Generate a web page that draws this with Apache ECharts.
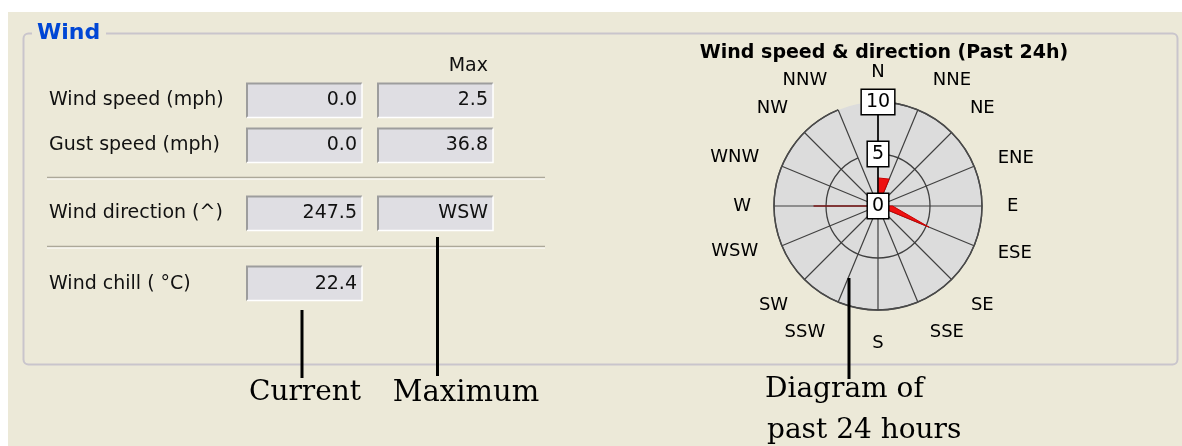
<!DOCTYPE html>
<html>
<head>
<meta charset="utf-8">
<script src="https://cdn.jsdelivr.net/npm/echarts@6/dist/echarts.min.js"></script>
<style>
html,body{margin:0;padding:0;background:#fff;}
#chart{width:1182px;height:446px;}
</style>
</head>
<body>
<div id="chart"></div>
<script>
// ---- data ----
const directions = ['N','NNE','NE','ENE','E','ESE','SE','SSE','S','SSW','SW','WSW','W','WNW','NW','NNW'];
const speedByDirection = [2.7, 2.8, 0, 0, 1.4, 5.3, 0, 0, 0, 0, 0, 0, 0, 0, 0, 0];
const indicatorDirection = 'W';
const indicatorLength = 6.2;
const radiusTicks = [0, 5, 10];
const rowLabels = ['Wind speed (mph)', 'Gust speed (mph)', 'Wind direction (^)', 'Wind chill ( \u00B0C)'];
const currentValues = ['0.0', '0.0', '247.5', '22.4'];
const maxValues = ['2.5', '36.8', 'WSW', null];
const chartTitle = 'Wind speed & direction (Past 24h)';
const panelTitle = 'Wind';
const maxHeader = 'Max';
const annotations = ['Current', 'Maximum', 'Diagram of', 'past 24 hours'];

// ---- layout / style (UI chrome) ----
const SANS = 'DejaVu Sans';
const SERIF = 'DejaVu Serif';
const BG = '#ECE9D8';
const rowY = [99.5, 144.5, 212.5, 283];
const curX = 247, maxX = 378, boxW = 115, boxH = 34;
// compass label padding [top, right, bottom, left], pushes labels outwards like the original widget
const labelPad = [
  [0,0,29,0], [0,0,28,18], [0,0,21,24], [0,0,2,31],
  [0,0,3,33], [2,0,0,31], [22,0,0,25], [29,0,0,15],
  [32,0,0,0], [29,16,0,0], [22,22,0,0], [0,31,0,0],
  [0,31,0,0], [0,30,3,0], [0,22,21,0], [0,14,28,0]
];

function box(x, yc, text) {
  const y = Math.round(yc - boxH / 2) + 0.5;
  const els = [
    {type: 'rect', shape: {x: x, y: y, width: boxW, height: boxH}, style: {fill: '#DFDEE3', stroke: null}},
    {type: 'polyline', shape: {points: [[x, y + boxH], [x, y], [x + boxW, y]]}, style: {stroke: '#9d9d9d', lineWidth: 2, fill: null}},
    {type: 'polyline', shape: {points: [[x + boxW, y], [x + boxW, y + boxH], [x, y + boxH]]}, style: {stroke: '#ffffff', lineWidth: 1.5, fill: null}}
  ];
  if (text != null) {
    els.push({type: 'text', x: x + boxW - 5, y: yc + 1, style: {text: text, font: '19px "' + SANS + '"', fill: '#111', align: 'right', verticalAlign: 'middle'}});
  }
  return els;
}

let graphics = [
  {type: 'rect', shape: {x: 8, y: 12, width: 1174, height: 434}, style: {fill: BG}, z: -10},
  {type: 'rect', shape: {x: 23.5, y: 33.5, width: 1154, height: 331, r: 5}, style: {fill: null, stroke: '#c9c5cc', lineWidth: 2}, z: -9},
  {type: 'rect', shape: {x: 32, y: 22, width: 74, height: 24}, style: {fill: BG}, z: -8},
  {type: 'text', x: 37, y: 33, style: {text: panelTitle, font: 'bold 22px "' + SANS + '"', fill: '#0046D5', verticalAlign: 'middle'}},
  {type: 'text', x: 488, y: 66, style: {text: maxHeader, font: '19px "' + SANS + '"', fill: '#111', align: 'right', verticalAlign: 'middle'}},
  {type: 'line', shape: {x1: 47, y1: 177.5, x2: 545, y2: 177.5}, style: {stroke: '#aca899', lineWidth: 1.5}},
  {type: 'line', shape: {x1: 47, y1: 179, x2: 545, y2: 179}, style: {stroke: '#ffffff', lineWidth: 1}},
  {type: 'line', shape: {x1: 47, y1: 246.5, x2: 545, y2: 246.5}, style: {stroke: '#aca899', lineWidth: 1.5}},
  {type: 'line', shape: {x1: 47, y1: 248, x2: 545, y2: 248}, style: {stroke: '#ffffff', lineWidth: 1}},
  // annotation pointers
  {type: 'line', shape: {x1: 302, y1: 310, x2: 302, y2: 378}, style: {stroke: '#000', lineWidth: 3}, z: 20},
  {type: 'line', shape: {x1: 437.5, y1: 237, x2: 437.5, y2: 376}, style: {stroke: '#000', lineWidth: 3}, z: 20},
  {type: 'line', shape: {x1: 849, y1: 278, x2: 849, y2: 379}, style: {stroke: '#000', lineWidth: 3}, z: 20},
  {type: 'text', x: 305, y: 393, style: {text: annotations[0], font: '28px "' + SERIF + '"', fill: '#000', align: 'center', verticalAlign: 'middle'}},
  {type: 'text', x: 466, y: 393, style: {text: annotations[1], font: '29px "' + SERIF + '"', fill: '#000', align: 'center', verticalAlign: 'middle'}},
  {type: 'text', x: 765, y: 376, style: {text: annotations[2], font: '28px "' + SERIF + '"', fill: '#000', align: 'left', verticalAlign: 'top'}},
  {type: 'text', x: 767, y: 417, style: {text: annotations[3], font: '28px "' + SERIF + '"', fill: '#000', align: 'left', verticalAlign: 'top'}}
];
rowLabels.forEach(function (lbl, i) {
  graphics.push({type: 'text', x: 49, y: rowY[i] + 1, style: {text: lbl, font: '19px "' + SANS + '"', fill: '#111', verticalAlign: 'middle'}});
  graphics = graphics.concat(box(curX, rowY[i], currentValues[i]));
  if (maxValues[i] != null) graphics = graphics.concat(box(maxX, rowY[i], maxValues[i]));
});

const angleData = directions.map(function (d, i) {
  return {value: d, textStyle: {padding: labelPad[i]}};
});

const POLAR = {center: [878, 206], radius: 104};
const chart = echarts.init(document.getElementById('chart'), null, {renderer: 'canvas'});
chart.setOption({
  backgroundColor: '#ffffff',
  animation: false,
  title: {
    text: chartTitle, left: 879, top: 39, textAlign: 'center',
    textStyle: {fontFamily: SANS, fontSize: 19, fontWeight: 'bold', color: '#000'}
  },
  graphic: graphics,
  polar: [POLAR, POLAR, POLAR],
  angleAxis: [
    { // background disc
      polarIndex: 0, type: 'category', data: directions, boundaryGap: false, startAngle: 90,
      axisLine: {show: false}, axisTick: {show: false}, axisLabel: {show: false},
      splitLine: {show: false},
      splitArea: {show: true, areaStyle: {color: ['#dcdcdc', '#dcdcdc']}},
      z: 0
    },
    { // spokes, rim and compass labels
      polarIndex: 1, type: 'category', data: angleData, boundaryGap: false, startAngle: 90,
      axisLine: {show: true, lineStyle: {color: '#4a4a4a', width: 1.5}},
      axisTick: {show: false},
      axisLabel: {show: true, fontFamily: SANS, fontSize: 18, color: '#000', margin: -8},
      splitLine: {show: true, lineStyle: {color: '#404040', width: 1.2}},
      splitArea: {show: false},
      z: 1
    },
    {
      polarIndex: 2, type: 'category', data: directions, boundaryGap: false, startAngle: 90, show: false
    }
  ],
  radiusAxis: [
    {
      polarIndex: 0, min: radiusTicks[0], max: radiusTicks[2], interval: radiusTicks[1] - radiusTicks[0],
      axisLine: {show: false}, axisTick: {show: false}, axisLabel: {show: false},
      splitLine: {show: false}, z: 0
    },
    { // rings
      polarIndex: 1, min: radiusTicks[0], max: radiusTicks[2], interval: radiusTicks[1] - radiusTicks[0],
      axisLine: {show: false}, axisTick: {show: false}, axisLabel: {show: false},
      splitLine: {show: true, lineStyle: {color: '#404040', width: 1.3}},
      z: 1
    },
    { // north scale with boxed tick labels
      polarIndex: 2, min: radiusTicks[0], max: radiusTicks[2], interval: radiusTicks[1] - radiusTicks[0],
      axisLine: {show: true, lineStyle: {color: '#000', width: 1.5}},
      axisTick: {show: false},
      splitLine: {show: false},
      axisLabel: {
        show: true, margin: 0, align: 'center', verticalAlign: 'middle', rotate: 0,
        fontFamily: SANS, fontSize: 19, color: '#000',
        backgroundColor: '#fff', borderColor: '#000', borderWidth: 1.5, padding: [3, 4, 2, 4]
      },
      z: 10
    }
  ],
  series: [
    {
      type: 'line', coordinateSystem: 'polar', polarIndex: 0, data: speedByDirection,
      symbol: 'none', lineStyle: {color: '#c80000', width: 1},
      areaStyle: {color: '#ee1111', opacity: 1}, z: 3
    },
    {
      type: 'line', coordinateSystem: 'polar', polarIndex: 0,
      data: [[0, indicatorDirection], [indicatorLength, indicatorDirection]],
      symbol: 'none', lineStyle: {color: '#7d1a1a', width: 1.5}, z: 4
    }
  ]
});
</script>
</body>
</html>
